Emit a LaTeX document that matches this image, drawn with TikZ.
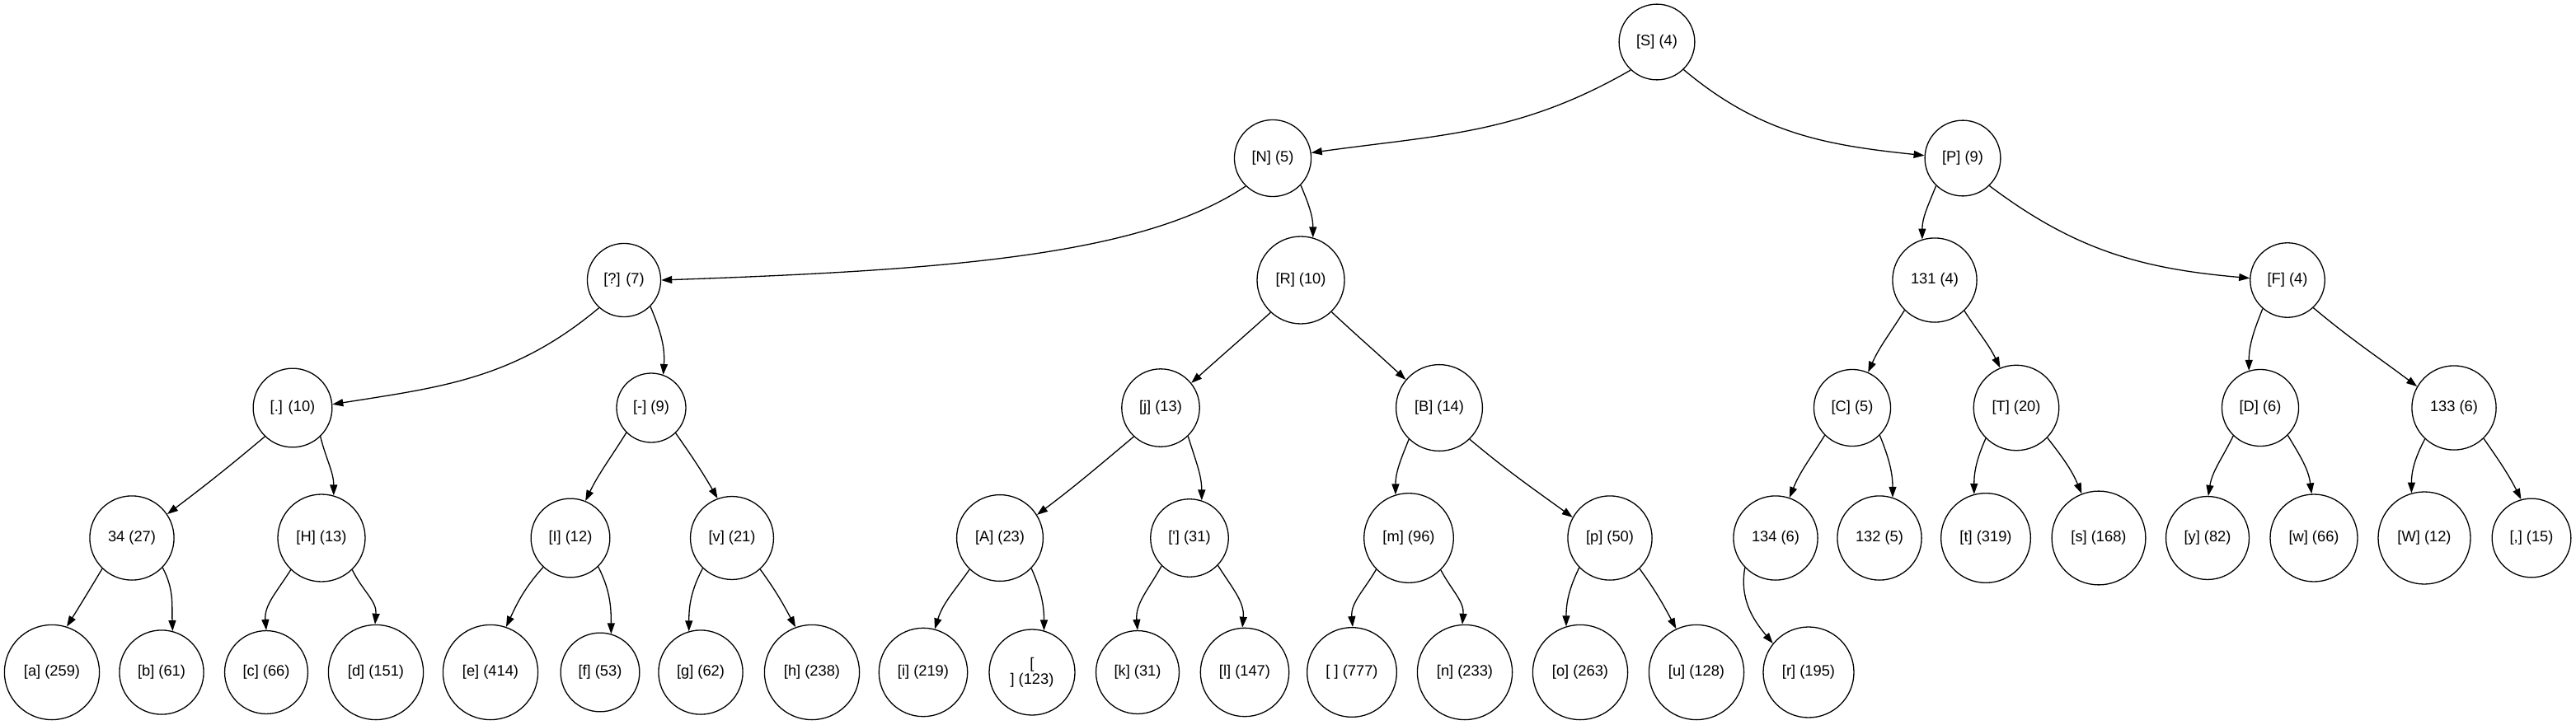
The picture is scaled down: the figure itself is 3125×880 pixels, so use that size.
\documentclass[tikz,border=0pt]{standalone}
\usepackage{fontspec}
\setmainfont{Liberation Sans}
\usetikzlibrary{arrows.meta}
\begin{document}
\begin{tikzpicture}[x=1pt,y=-1pt,
  tn/.style={circle,draw,line width=1.3pt,inner sep=0pt,align=center,
    font=\fontsize{18.3}{19}\selectfont,minimum size=#1},
  edge/.style={line width=1.3pt,-{Triangle[length=13pt,width=9pt]}}]
\useasboundingbox (0,0) rectangle (3125,880);
% level 0
\node[tn=91.8] (S) at (2010,51) {[S] (4)};
% level 1
\node[tn=93.1] (N) at (1544,192) {[N] (5)};
\node[tn=91.8] (P) at (2381,192) {[P] (9)};
% level 2
\node[tn=89.1] (Q) at (757,340) {[?] (7)};
\node[tn=106] (R) at (1578,340) {[R] (10)};
\node[tn=102.2] (n131) at (2347,340) {131 (4)};
\node[tn=90.5] (F) at (2775,340) {[F] (4)};
% level 3
\node[tn=95.7] (dot) at (355,495) {[.] (10)};
\node[tn=84] (dash) at (790,495) {[-] (9)};
\node[tn=94.4] (j) at (1408,495) {[j] (13)};
\node[tn=104.8] (B) at (1746,495) {[B] (14)};
\node[tn=93.1] (C) at (2247,495) {[C] (5)};
\node[tn=103.5] (T) at (2446,495) {[T] (20)};
\node[tn=93.1] (D) at (2742,495) {[D] (6)};
\node[tn=102.2] (n133) at (2977,495) {133 (6)};
% level 4
\node[tn=102.2] (n34) at (160,653) {34 (27)};
\node[tn=106] (H) at (390,653) {[H] (13)};
\node[tn=95.7] (I) at (692,653) {[I] (12)};
\node[tn=100.9] (v) at (888,653) {[v] (21)};
\node[tn=104.8] (A) at (1213,653) {[A] (23)};
\node[tn=94.5] (ap) at (1443,653) {[\textquotesingle] (31)};
\node[tn=108.6] (m) at (1709,653) {[m] (96)};
\node[tn=102.2] (p) at (1953,653) {[p] (50)};
\node[tn=102.2] (n134) at (2154,653) {134 (6)};
\node[tn=102.2] (n132) at (2280,653) {132 (5)};
\node[tn=108.7] (t) at (2409,653) {[t] (319)};
\node[tn=113.8] (s) at (2546,653) {[s] (168)};
\node[tn=100.9] (y) at (2678,653) {[y] (82)};
\node[tn=106] (w) at (2807,653) {[w] (66)};
\node[tn=112] (W) at (2941,653) {[W] (12)};
\node[tn=95.7] (comma) at (3071,653) {[,] (15)};
% level 5
\node[tn=115.2] (xa) at (63,816) {[a] (259)};
\node[tn=102.2] (xb) at (196,816) {[b] (61)};
\node[tn=100.9] (xc) at (323,816) {[c] (66)};
\node[tn=115.2] (xd) at (456,816) {[d] (151)};
\node[tn=115.2] (xe) at (595,816) {[e] (414)};
\node[tn=95.7] (xf) at (728,816) {[f] (53)};
\node[tn=102.2] (xg) at (850,816) {[g] (62)};
\node[tn=115.2] (xh) at (985,816) {[h] (238)};
\node[tn=107.4] (xi) at (1120,816) {[i] (219)};
\node[tn=104] (xnl) at (1252,816) {[\\] (123)};
\node[tn=100.9] (xk) at (1380,816) {[k] (31)};
\node[tn=107.4] (xl) at (1510,816) {[l] (147)};
\node[tn=108.7] (xsp) at (1640,816) {[\ ] (777)};
\node[tn=115.2] (xn) at (1777,816) {[n] (233)};
\node[tn=115.2] (xo) at (1917,816) {[o] (263)};
\node[tn=115.2] (xu) at (2058,816) {[u] (128)};
\node[tn=110] (xr) at (2194,816) {[r] (195)};
% edges
\draw[edge] (S.-133) to[out=-150,in=8] (N.8);
\draw[edge] (S.-46) to[out=-40,in=174] (P.176);
\draw[edge] (N.-134) to[out=-146,in=2,out distance=150,in distance=350] (Q.0);
\draw[edge] (N.-44) to[out=-67,in=90] (R.74);
\draw[edge] (P.-134) to[out=-112,in=90] (n131.107);
\draw[edge] (P.-46) to[out=-37,in=175] (F.177);
\draw[edge] (Q.-132) to[out=-140,in=9] (dot.5);
\draw[edge] (Q.-45) to[out=-67,in=86] (dash.70);
\draw[edge] (R.-133) to[out=-138,in=42] (j.39);
\draw[edge] (R.-46) to[out=-43,in=137] (B.140);
\draw[edge] (n131.-135) to[out=-122,in=66] (C.66);
\draw[edge] (n131.-46) to[out=-57,in=116] (T.112);
\draw[edge] (F.-131) to[out=-112,in=90] (D.107);
\draw[edge] (F.-47) to[out=-40,in=143] (n133.150);
\draw[edge] (dot.-134) to[out=-140,in=37] (n34.34);
\draw[edge] (dot.-46) to[out=-76,in=90] (H.74);
\draw[edge] (dash.-135) to[out=-122,in=64] (I.68);
\draw[edge] (dash.-46) to[out=-55,in=120] (v.110);
\draw[edge] (j.-133) to[out=-140,in=37] (A.32);
\draw[edge] (j.-46) to[out=-73,in=90] (ap.72);
\draw[edge] (B.-134) to[out=-112,in=90] (m.107);
\draw[edge] (B.-46) to[out=-40,in=144] (p.151);
\draw[edge] (C.-135) to[out=-122,in=68] (n134.71);
\draw[edge] (C.-45) to[out=-68,in=90] (n132.72);
\draw[edge] (T.-135) to[out=-114,in=90] (t.105);
\draw[edge] (T.-44) to[out=-52,in=113] (s.111);
\draw[edge] (D.-134) to[out=-116,in=81] (y.89);
\draw[edge] (D.-45) to[out=-59,in=97] (w.93);
\draw[edge] (n133.-133) to[out=-118,in=90] (W.106);
\draw[edge] (n133.-46) to[out=-55,in=117] (comma.105);
\draw[edge] (n34.-134) to[out=-121,in=58] (xa.72);
\draw[edge] (n34.-44) to[out=-62,in=92] (xb.75);
\draw[edge] (H.-134) to[out=-122,in=95] (xc.90);
\draw[edge] (H.-46) to[out=-64,in=85] (xd.91);
\draw[edge] (I.-133) to[out=-132,in=65] (xe.71);
\draw[edge] (I.-46) to[out=-63,in=90] (xf.74);
\draw[edge] (v.-134) to[out=-118,in=90] (xg.106);
\draw[edge] (v.-48) to[out=-54,in=118] (xh.110);
\draw[edge] (A.-134) to[out=-125,in=73] (xi.75);
\draw[edge] (A.-44) to[out=-66,in=90] (xnl.74);
\draw[edge] (ap.-135) to[out=-119,in=95] (xk.90);
\draw[edge] (ap.-44) to[out=-58,in=85] (xl.93);
\draw[edge] (m.-136) to[out=-120,in=95] (xsp.89);
\draw[edge] (m.-45) to[out=-62,in=85] (xn.93);
\draw[edge] (p.-136) to[out=-116,in=90] (xo.107);
\draw[edge] (p.-46) to[out=-54,in=118] (xu.115);
\draw[edge] (n134.-136) to[out=-100,in=130] (xr.141);
\end{tikzpicture}
\end{document}
